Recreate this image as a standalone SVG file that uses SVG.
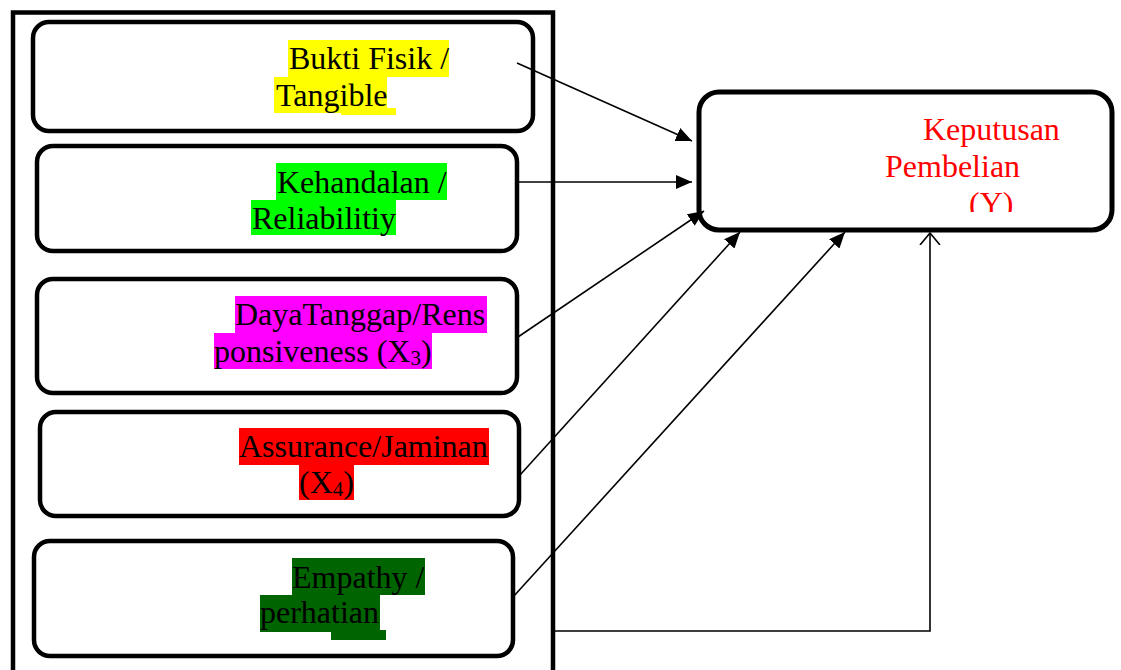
<svg xmlns="http://www.w3.org/2000/svg" width="1121" height="670" viewBox="0 0 1121 670">
<style>
.box{fill:#fff;stroke:#000;stroke-width:4.5}
.t{font-family:"Liberation Serif","Times New Roman",serif;font-size:32px;fill:#000}
.r{fill:#ff0000}
.c{stroke:#000;stroke-width:1.6;fill:none}
.sub{font-size:21px}
</style>
<defs>
<marker id="ah" markerUnits="userSpaceOnUse" markerWidth="18" markerHeight="14" refX="16" refY="7" orient="auto">
<path d="M0,0 L16,7 L0,14 Z" fill="#000"/>
</marker>
<marker id="oh" markerUnits="userSpaceOnUse" markerWidth="14" markerHeight="22" refX="12" refY="11" orient="auto">
<path d="M0,1 L12,11 L0,21" fill="none" stroke="#000" stroke-width="1.6"/>
</marker>
<clipPath id="yclip"><rect x="700" y="92" width="412" height="120"/></clipPath>
</defs>
<rect width="1121" height="670" fill="#fff"/>
<rect id="outer" x="13" y="12.5" width="540" height="700" fill="none" stroke="#000" stroke-width="4.5"/>

<g id="node-tangible">
<rect class="box" x="33" y="22" width="500" height="109" rx="16"/>
<rect x="288" y="40" width="161" height="37" fill="#ffff00"/>
<rect x="274" y="77" width="113" height="36" fill="#ffff00"/>
<rect x="341" y="108" width="55" height="7" fill="#ffff00"/>
<text class="t" x="289" y="69">Bukti Fisik /</text>
<text class="t" x="276" y="106">Tangible</text>
</g>

<g id="node-reliability">
<rect class="box" x="37" y="146" width="480" height="105" rx="16"/>
<rect x="276" y="163" width="171" height="37" fill="#00ff00"/>
<rect x="251" y="200" width="145" height="35" fill="#00ff00"/>
<text class="t" x="277" y="193">Kehandalan /</text>
<text class="t" x="252" y="229">Reliabilitiy</text>
</g>

<g id="node-responsiveness">
<rect class="box" x="37" y="279" width="480" height="114" rx="16"/>
<rect x="235" y="296" width="252" height="37" fill="#ff00ff"/>
<rect x="214" y="333" width="218" height="36" fill="#ff00ff"/>
<text class="t" x="235" y="325">DayaTanggap/Rens</text>
<text class="t" x="214" y="362">ponsiveness (X<tspan class="sub" dy="3">3</tspan><tspan dy="-3">)</tspan></text>
</g>

<g id="node-assurance">
<rect class="box" x="40" y="412" width="479" height="104" rx="16"/>
<rect x="239" y="428" width="250" height="37" fill="#ff0000"/>
<rect x="299" y="465" width="55" height="35" fill="#ff0000"/>
<text class="t" x="239" y="457">Assurance/Jaminan</text>
<text class="t" x="299" y="493">(X<tspan class="sub" dy="3">4</tspan><tspan dy="-3">)</tspan></text>
</g>

<g id="node-empathy">
<rect class="box" x="34" y="541" width="479" height="115" rx="16"/>
<rect x="292" y="558" width="133" height="37" fill="#006400"/>
<rect x="260" y="595" width="120" height="37" fill="#006400"/>
<rect x="331" y="630" width="55" height="10" fill="#006400"/>
<text class="t" x="292" y="588">Empathy /</text>
<text class="t" x="260" y="623">perhatian</text>
</g>

<g id="node-keputusan">
<rect class="box" x="699" y="92" width="413" height="138" rx="20" style="stroke-width:5"/>
<text class="t r" x="923" y="140">Keputusan</text>
<text class="t r" x="885" y="177">Pembelian</text>
<text class="t r" x="969" y="214" clip-path="url(#yclip)">(Y)</text>
</g>

<g id="connectors">
<line class="c" x1="517" y1="63" x2="692" y2="141" marker-end="url(#ah)"/>
<line class="c" x1="517" y1="182" x2="692" y2="182" marker-end="url(#ah)"/>
<line class="c" x1="518" y1="337" x2="704" y2="211" marker-end="url(#ah)"/>
<line class="c" x1="520" y1="475" x2="740" y2="232" marker-end="url(#ah)"/>
<line class="c" x1="513" y1="597" x2="845" y2="232" marker-end="url(#ah)"/>
<polyline class="c" points="553,631 930,631 930,233" marker-end="url(#oh)"/>
</g>
</svg>
